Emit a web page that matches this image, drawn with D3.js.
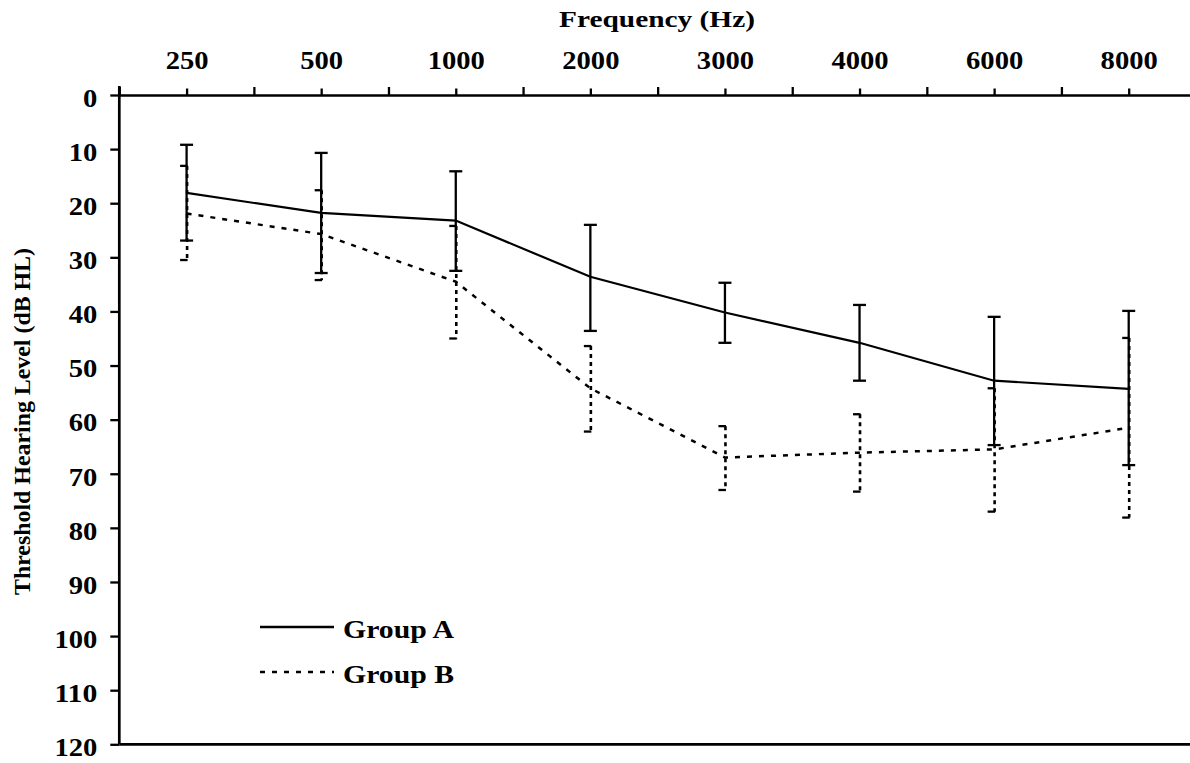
<!DOCTYPE html>
<html>
<head>
<meta charset="utf-8">
<script src="https://cdn.jsdelivr.net/npm/d3@7"></script>
<style>
  body { margin: 0; background: #fff; }
  svg { display: block; }
  text { font-family: "Liberation Serif", "Times New Roman", serif; font-weight: bold; fill: #000; }
</style>
</head>
<body>
<svg id="chart" width="1190" height="763"></svg>
<script>
// frequencies (categories) and threshold values in dB HL
const freqs = ["250", "500", "1000", "2000", "3000", "4000", "6000", "8000"];
const yTicks = [0, 10, 20, 30, 40, 50, 60, 70, 80, 90, 100, 110, 120];

const groupAMean = [18.1, 21.8, 23.2, 33.6, 40.2, 45.8, 52.8, 54.3];
const groupATop  = [9.2, 10.7, 14.1, 24.0, 34.7, 38.8, 41.0, 39.9];
const groupABot  = [26.9, 32.9, 32.5, 43.6, 45.8, 52.8, 64.7, 68.4];

const groupBMean = [21.9, 25.7, 34.5, 54.2, 67.0, 66.1, 65.5, 61.5];
const groupBTop  = [13.1, 17.6, 24.2, 46.4, 61.2, 59.0, 54.2, 44.9];
const groupBBot  = [30.5, 34.2, 45.0, 62.2, 73.0, 73.3, 77.0, 78.1];

const seriesNames = ["Group A", "Group B"];

const svg = d3.select("#chart");

const plotLeft = 119.3, plotRight = 1196, plotTop = 95, plotBottom = 744.3;

const x = d3.scaleBand().domain(freqs).range([plotLeft, plotRight]).padding(0);
const xc = d => x(d) + x.bandwidth() / 2;
const y = d3.scaleLinear().domain([0, 120]).range([plotTop, plotBottom]);

// the original text is stretched sideways, so widths are forced with textLength
const digitW = 14.3;

// boundary ticks of the category axis
const xEdges = d3.scaleLinear().domain([0, freqs.length]).range([plotLeft, plotRight]);
svg.append("g")
  .attr("transform", `translate(0,${plotTop})`)
  .call(d3.axisTop(xEdges).ticks(freqs.length).tickSize(8).tickSizeOuter(0).tickFormat(""))
  .call(g => g.selectAll("line").attr("stroke-width", 2.3))
  .call(g => g.select(".domain").attr("stroke-width", 2.7));

// category ticks + labels
const xPoints = d3.scalePoint().domain(freqs).range([xc(freqs[0]), xc(freqs[freqs.length - 1])]);
svg.append("g")
  .attr("transform", `translate(0,${plotTop})`)
  .call(d3.axisTop(xPoints).tickSize(6.5).tickSizeOuter(0).tickPadding(19.5))
  .call(g => g.select(".domain").remove())
  .call(g => g.selectAll("line").attr("stroke-width", 2.3))
  .call(g => g.selectAll("text")
    .attr("font-size", 25)
    .attr("dy", 0)
    .attr("textLength", d => d.length * digitW)
    .attr("lengthAdjust", "spacingAndGlyphs"));

// y axis (reversed: 0 on top)
svg.append("g")
  .attr("transform", `translate(${plotLeft},0)`)
  .call(d3.axisLeft(y).tickValues(yTicks).tickSize(9).tickSizeOuter(0).tickPadding(13))
  .call(g => g.select(".domain").attr("d", `M0,${plotTop - 9}V${plotBottom}`).attr("stroke-width", 2.7))
  .call(g => g.selectAll("line").attr("stroke-width", 2.3))
  .call(g => g.selectAll("text")
    .attr("font-size", 25)
    .attr("dy", "0.45em")
    .attr("textLength", d => String(d).length * digitW)
    .attr("lengthAdjust", "spacingAndGlyphs"));

// bottom frame line
svg.append("line")
  .attr("x1", plotLeft).attr("x2", plotRight)
  .attr("y1", y(120)).attr("y2", y(120))
  .attr("stroke", "#000").attr("stroke-width", 2.7);

// titles
svg.append("text")
  .attr("x", 657).attr("y", 27)
  .attr("text-anchor", "middle")
  .attr("font-size", 24)
  .attr("textLength", 196).attr("lengthAdjust", "spacingAndGlyphs")
  .text("Frequency (Hz)");

svg.append("text")
  .attr("transform", "translate(30,421.5) rotate(-90)")
  .attr("text-anchor", "middle")
  .attr("font-size", 24)
  .attr("textLength", 347).attr("lengthAdjust", "spacingAndGlyphs")
  .text("Threshold Hearing Level (dB HL)");

// error bars
const capW = 6.5;

const bBars = svg.append("g").attr("stroke", "#000");
freqs.forEach((f, i) => {
  bBars.append("line")
    .attr("x1", xc(f) + 0.5).attr("x2", xc(f) + 0.5)
    .attr("y1", y(groupBTop[i])).attr("y2", y(groupBBot[i]))
    .attr("stroke-width", 2.6).attr("stroke-dasharray", "4,4");
  [groupBTop[i], groupBBot[i]].forEach(v => {
    bBars.append("line")
      .attr("x1", xc(f) - capW).attr("x2", xc(f) + 1)
      .attr("y1", y(v)).attr("y2", y(v))
      .attr("stroke-width", 2.3);
  });
});

const aBars = svg.append("g").attr("stroke", "#000");
freqs.forEach((f, i) => {
  aBars.append("line")
    .attr("x1", xc(f)).attr("x2", xc(f))
    .attr("y1", y(groupATop[i])).attr("y2", y(groupABot[i]))
    .attr("stroke-width", 2.3);
  [groupATop[i], groupABot[i]].forEach(v => {
    aBars.append("line")
      .attr("x1", xc(f) - capW).attr("x2", xc(f) + capW)
      .attr("y1", y(v)).attr("y2", y(v))
      .attr("stroke-width", 2.3);
  });
});

// lines
const line = d3.line().x((d, i) => xc(freqs[i])).y(d => y(d));

svg.append("path")
  .datum(groupBMean)
  .attr("d", line)
  .attr("fill", "none").attr("stroke", "#000")
  .attr("stroke-width", 2.5).attr("stroke-dasharray", "5,7");

svg.append("path")
  .datum(groupAMean)
  .attr("d", line)
  .attr("fill", "none").attr("stroke", "#000")
  .attr("stroke-width", 2.2);

// legend
const legend = svg.append("g");
const legendY = [627, 672];
const legendDash = [null, "5,7"];
seriesNames.forEach((name, i) => {
  legend.append("line")
    .attr("x1", 260).attr("x2", 334)
    .attr("y1", legendY[i]).attr("y2", legendY[i])
    .attr("stroke", "#000").attr("stroke-width", 2.4)
    .attr("stroke-dasharray", legendDash[i]);
  legend.append("text")
    .attr("x", 343).attr("y", legendY[i] + 11)
    .attr("font-size", 25)
    .attr("textLength", 111).attr("lengthAdjust", "spacingAndGlyphs")
    .text(name);
});
</script>
</body>
</html>
